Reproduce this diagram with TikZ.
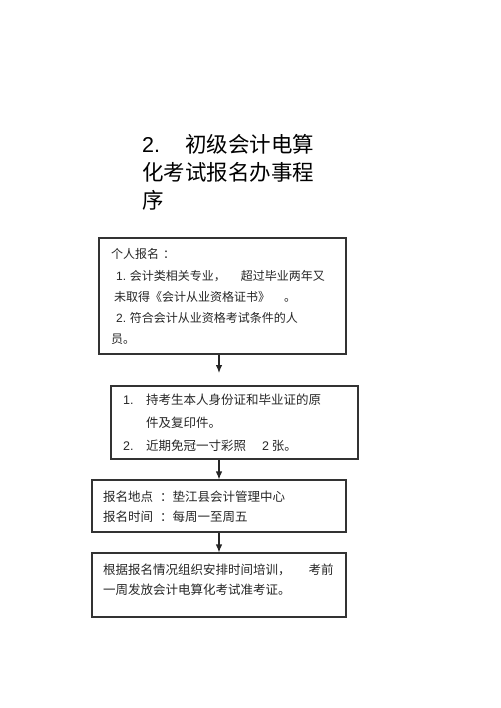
\documentclass[tikz,border=0pt]{standalone}
\usepackage{fontspec}
\setmainfont{Liberation Sans}
\newfontfamily\cjk{Noto Sans CJK SC}
\newfontfamily\lat{Liberation Sans}
\usetikzlibrary{arrows.meta}
\begin{document}
\begin{tikzpicture}[x=1pt, y=-1pt,
                    stepbox/.style = {shape = rectangle,
                                      draw = black!80,
                                      line width = 1.1pt,
                                      inner sep = 0pt},
                    boxtext/.style = {anchor = north west,
                                      inner sep = 0pt,
                                      align = left,
                                      text = black!85,
                                      font = \cjk\fontsize{12}{21.2}\selectfont},
                    arr/.style = {draw = black!85,
                                  line width = 1.1pt,
                                  -{Latex[length=8pt,width=6.5pt]}}]
	\useasboundingbox (0,0) rectangle (500,708);
	% title
	\node[boxtext, font = \cjk\fontsize{21.5}{28}\selectfont, text = black] (title) at (142,134)
		{{\lat 2.}\hspace{25pt}初级会计电算\\化考试报名办事程\\序};
	% boxes
	\node[stepbox, minimum width = 247pt, minimum height = 116pt] (reg) at (222.5,296) {};
	\node[stepbox, minimum width = 247pt, minimum height = 73pt] (docs) at (234.5,422.5) {};
	\node[stepbox, minimum width = 254pt, minimum height = 52pt] (place) at (219,506) {};
	\node[stepbox, minimum width = 254pt, minimum height = 64pt] (exam) at (219,585) {};
	\coordinate (tip) at (219,373);
	% texts
	\node[boxtext] (regtext) at (111,248.5)
		{个人报名\hspace{4pt}：\\
		 \hspace{5pt}{\lat 1.} 会计类相关专业，\hspace{15pt}超过毕业两年又\\
		 \hspace{3pt}未取得《会计从业资格证书》\hspace{14pt}。\\
		 \hspace{5pt}{\lat 2.} 符合会计从业资格考试条件的人\\
		 员。};
	\node[boxtext, font = \cjk\fontsize{12.5}{23}\selectfont] (docstext) at (123,394)
		{\makebox[23pt][l]{\lat 1.}持考生本人身份证和毕业证的原\\
		 \hspace{23pt}件及复印件。\\
		 \makebox[23pt][l]{\lat 2.}近期免冠一寸彩照\hspace{16pt}{\lat 2} 张。};
	\node[boxtext, font = \cjk\fontsize{12.5}{20}\selectfont] (placetext) at (103,491)
		{报名地点\hspace{7pt}：\hspace{0pt}垫江县会计管理中心\\
		 报名时间\hspace{7pt}：\hspace{0pt}每周一至周五};
	\node[boxtext, font = \cjk\fontsize{12.5}{20}\selectfont] (examtext) at (103,564)
		{根据报名情况组织安排时间培训，\hspace{18pt}考前\\
		 一周发放会计电算化考试准考证。};
	% arrows
	\draw[arr] (reg.south -| tip) -- (tip);
	\draw[arr] (docs.south -| place.north) -- (place.north);
	\draw[arr] (place.south) -- (exam.north);
\end{tikzpicture}
\end{document}
